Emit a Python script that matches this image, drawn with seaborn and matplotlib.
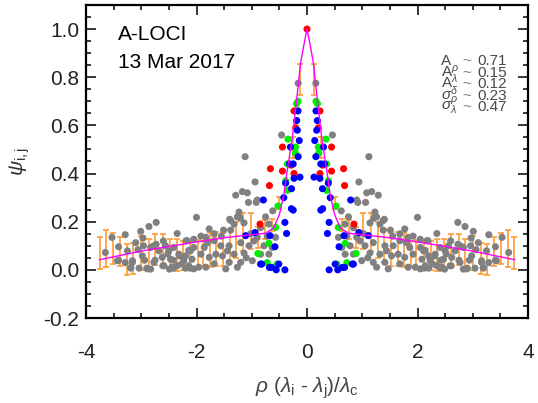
"""
A-LOCI: correlacion psi_ij frente a la separacion espectral normalizada.
"""

import numpy as np
import pandas as pd
import matplotlib
matplotlib.use("Agg")
import matplotlib.pyplot as plt
from matplotlib.ticker import MultipleLocator, FormatStrFormatter
import seaborn as sns

# Datos (lado x > 0; el lado x < 0 es el espejo, pares i,j / j,i)
gray_x = [0.16, 0.46, 1.12, 0.94, 1.08, 1.17, 1.29, 0.92, 1.06, 0.90, 0.62, 1.23, 0.75, 1.26,
          1.38, 0.69, 0.84, 1.14, 1.32, 1.40, 1.21, 1.38, 1.51, 1.55, 1.68, 1.77, 1.83, 1.92,
          2.00, 2.05, 2.17, 0.78, 0.84, 0.96, 0.72, 1.02, 0.90, 0.63, 0.69, 0.57, 0.99, 1.14,
          1.05, 1.20, 1.41, 1.56, 1.86, 1.92, 1.44, 1.32, 1.41, 1.26, 1.47, 1.20, 1.68, 1.77,
          1.65, 1.53, 1.80, 1.68, 1.83, 1.96, 2.05, 2.08, 2.11, 2.20, 1.10,
          3.65, 3.53, 3.41, 3.41, 3.29, 3.29, 3.19, 3.16, 3.04, 3.06, 3.01, 2.97, 2.94, 2.90,
          2.83, 2.86, 2.73, 2.78, 2.73, 2.75, 2.60, 2.56, 2.61, 2.52, 2.49, 2.42, 2.41, 2.35,
          2.42, 2.31, 2.27, 2.23, 2.19, 2.20, 2.12, 2.14, 2.05, 3.10, 3.25, 2.98, 3.16, 3.43,
          3.19, 2.89, 2.77, 2.62, 2.50, 2.32, 2.35, 2.59, 2.44, 2.68, 2.83, 2.96, 2.47, 2.23,
          2.14]
gray_y = [0.775, 0.56, 0.47, 0.365, 0.32, 0.325, 0.31, 0.28, 0.28, 0.29, 0.245, 0.24, 0.22, 0.22,
          0.205, 0.19, 0.175, 0.195, 0.19, 0.21, 0.215, 0.165, 0.165, 0.14, 0.15, 0.17, 0.135, 0.14,
          0.218, 0.127, 0.121, 0.10, 0.065, 0.12, 0.14, 0.15, 0.135, 0.093, 0.065, 0.135, 0.038, 0.07,
          0.10, 0.113, 0.10, 0.10, 0.093, 0.065, 0.079, 0.065, 0.031, 0.011, 0.004, 0.031, 0.025, 0.052,
          0.065, 0.058, 0.113, 0.121, 0.011, 0.011, 0.004, 0.044, 0.079, 0.058, 0.05,
          0.072, 0.135, 0.096, 0.04, 0.146, 0.03, 0.007, 0.031, 0.007, 0.084, 0.16, 0.132, 0.04, 0.007,
          0.003, 0.18, 0.197, 0.099, 0.106, 0.04, 0.12, 0.10, 0.017, 0.066, 0.003, 0.007, 0.093, 0.151,
          0.04, 0.058, 0.024, 0.049, 0.121, 0.007, 0.007, 0.081, 0.093, 0.113, 0.079, 0.058, 0.038, 0.038,
          0.01, 0.004, 0.031, 0.052, 0.079, 0.065, 0.017, 0.017, 0.011, 0.079, 0.093, 0.10, 0.044, 0.038,
          0.017]

red_x = [0.235, 0.205, 0.445, 0.283, 0.662, 0.445, 0.235, 0.68, 0.85]
red_y = [0.66, 0.59, 0.51, 0.435, 0.42, 0.41, 0.40, 0.35, 0.19]

green_x = [0.163, 0.19, 0.345, 0.205, 0.21, 0.356, 0.386, 0.356, 0.525, 0.567, 0.69, 0.89, 0.72, 0.54]
green_y = [0.70, 0.69, 0.543, 0.51, 0.485, 0.44, 0.37, 0.33, 0.265, 0.176, 0.11, 0.068, 0.03, 0.024]

blue_x = [0.163, 0.187, 0.175, 0.14, 0.30, 0.16, 0.25, 0.317, 0.127, 0.235, 0.386, 0.28, 0.42,
          0.79, 0.283, 0.25, 0.40, 0.37, 0.67, 0.94, 1.11, 0.58, 0.82, 0.40, 0.557, 0.68, 0.84,
          0.51, 0.64]
blue_y = [0.66, 0.62, 0.58, 0.537, 0.51, 0.47, 0.44, 0.44, 0.385, 0.38, 0.36, 0.337, 0.30,
          0.29, 0.254, 0.248, 0.197, 0.151, 0.142, 0.155, 0.142, 0.096, 0.024, 0.0, 0.0, 0.01, 0.024,
          0.024, 0.01]

# punto central (i = j)
peak_x = [0.0]
peak_y = [1.0]

# ajuste (magenta), lado x >= 0
fit_x = [0.0, 0.06, 0.115, 0.19, 0.27, 0.36, 0.42, 0.50, 0.60, 0.75, 1.0, 1.44, 2.05, 2.95, 3.76]
fit_y = [1.0, 0.93, 0.86, 0.70, 0.54, 0.41, 0.31, 0.23, 0.175, 0.152, 0.146, 0.135, 0.114, 0.08, 0.042]

# barras de error por intervalo (min / max), lado x > 0
bin_x = [0.127, 0.25, 0.50, 0.64, 0.76, 0.88, 1.01, 1.16, 1.28, 1.40, 1.52, 1.64, 1.76, 1.88,
         1.98, 2.12, 2.24, 2.36, 2.48, 2.61, 2.75, 2.86, 3.00, 3.15, 3.26, 3.39, 3.51, 3.63, 3.75]
bin_lo = [0.725, 0.465, 0.253, 0.163, 0.13, 0.09, 0.086, 0.079, 0.051, 0.031, 0.017, 0.017, 0.01,
          0.01, 0.003, 0.0, 0.0, -0.004, -0.001, 0.01, 0.021, 0.003, 0.0, -0.018, -0.021, 0.014,
          0.024, 0.01, 0.003]
bin_hi = [0.855, 0.551, 0.304, 0.213, 0.208, 0.176, 0.238, 0.236, 0.197, 0.169, 0.155, 0.158, 0.151,
          0.12, 0.124, 0.12, 0.12, 0.127, 0.127, 0.148, 0.148, 0.127, 0.141, 0.11, 0.107, 0.138,
          0.152, 0.165, 0.135]

labels_txt = [r"A", r"A$^{\rho}$", r"A$^{\lambda}$", r"$\sigma^{\delta}$", r"$\sigma^{\rho}_{\lambda}$"]
labels_val = ["0.71", "0.15", "0.12", "0.23", "0.47"]


def mirror(v, sign=1):
    v = np.asarray(v, dtype=float)
    return np.concatenate([-v[::-1] if sign < 0 else v[::-1], v])


sns.set_theme(style="ticks")
plt.rcParams["font.family"] = ["Liberation Sans", "DejaVu Sans"]
plt.rcParams["mathtext.fontset"] = "custom"
plt.rcParams["mathtext.rm"] = "Liberation Sans"
plt.rcParams["mathtext.it"] = "Liberation Sans:italic"
plt.rcParams["axes.unicode_minus"] = False

# tabla de puntos (orden = orden de dibujo)
df = pd.concat([
    pd.DataFrame({"x": mirror(gray_x, -1), "y": mirror(gray_y), "g": "gray"}),
    pd.DataFrame({"x": mirror(red_x, -1), "y": mirror(red_y), "g": "red"}),
    pd.DataFrame({"x": peak_x, "y": peak_y, "g": "red"}),
    pd.DataFrame({"x": mirror(green_x, -1), "y": mirror(green_y), "g": "green"}),
    pd.DataFrame({"x": mirror(blue_x, -1), "y": mirror(blue_y), "g": "blue"}),
], ignore_index=True)
pal = {"gray": "#808080", "red": "#FF0000", "green": "#00EE00", "blue": "#0000FF"}

fig = plt.figure(figsize=(5.38, 4.03), dpi=100)
ax = fig.add_axes([86 / 538, 1 - 318 / 403, 442 / 538, 313 / 403])

bx = np.concatenate([-np.array(bin_x)[::-1], bin_x])
blo = mirror(bin_lo)
bhi = mirror(bin_hi)
ax.errorbar(bx, (blo + bhi) / 2, yerr=(bhi - blo) / 2, fmt="none", ecolor="#FF9933",
            elinewidth=1.2, capsize=2.3, capthick=1.2, zorder=1)

sns.scatterplot(data=df, x="x", y="y", hue="g", palette=pal, s=26, linewidth=0,
                legend=False, ax=ax, zorder=2)

fx = np.concatenate([-np.array(fit_x)[::-1], fit_x[1:]])
fy = np.concatenate([np.array(fit_y)[::-1], fit_y[1:]])
ax.plot(fx, fy, color="#FF00FF", lw=1.0, zorder=3)

ax.set_xlim(-4, 4)
ax.set_ylim(-0.2, 1.1)
ax.set_xticks([-4, -2, 0, 2, 4])
ax.xaxis.set_minor_locator(MultipleLocator(0.5))
ax.yaxis.set_major_locator(MultipleLocator(0.2))
ax.yaxis.set_minor_locator(MultipleLocator(0.05))
ax.yaxis.set_major_formatter(FormatStrFormatter("%.1f"))
ax.tick_params(which="both", direction="in", top=True, right=True, width=1.1, colors="black",
               labelcolor="#222222", labelsize=15)
ax.tick_params(which="major", length=7)
ax.tick_params(which="minor", length=3.5)
ax.tick_params(axis="x", which="major", pad=18)
ax.tick_params(axis="y", which="major", pad=5)
for s in ax.spines.values():
    s.set_linewidth(1.6)
    s.set_color("black")

ax.set_xlabel(r"$\rho\ (\lambda_{\mathrm{i}}$ - $\lambda_{\mathrm{j}})/\lambda_{\mathrm{c}}$",
              fontsize=15, color="#444444", labelpad=10)
ax.set_ylabel(r"$\psi_{\mathrm{i,j}}$", fontsize=15, color="#333333", labelpad=8)

ax.text(118 / 538, 1 - 40 / 403, "A-LOCI", transform=fig.transFigure, fontsize=15,
        color="black", va="baseline")
ax.text(118 / 538, 1 - 68 / 403, "13 Mar 2017", transform=fig.transFigure, fontsize=15,
        color="black", va="baseline")

base = [65, 77, 88, 100, 111]
for t, v, b in zip(labels_txt, labels_val, base):
    fig.text(441 / 538, 1 - b / 403, t, fontsize=11, color="#4a4a4a", va="baseline")
    fig.text(462 / 538, 1 - b / 403, "~", fontsize=11, color="#808080", va="baseline")
    fig.text(477 / 538, 1 - b / 403, v, fontsize=11, color="#4a4a4a", va="baseline")

fig.savefig("out.png", dpi=100)
